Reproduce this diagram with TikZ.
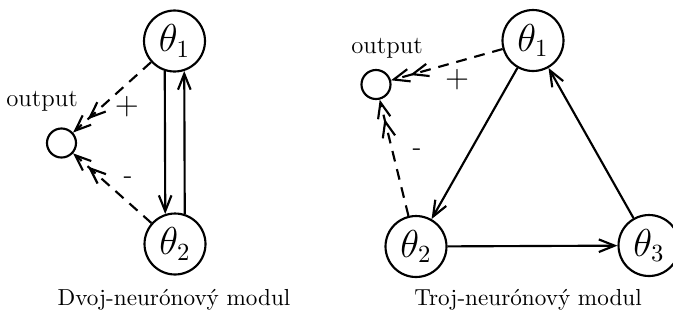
\documentclass[tikz,border=0pt]{standalone}
\usetikzlibrary{arrows.meta}
\begin{document}
\begin{tikzpicture}[x=0.4444pt, y=-0.4444pt,
  neuron/.style={draw, line width=0.95pt, circle, inner sep=0pt, minimum size=27.1pt, font=\fontsize{16}{18}\selectfont},
  outnode/.style={draw, line width=0.95pt, circle, inner sep=0pt, minimum size=12.9pt},
  lbl/.style={inner sep=0pt, font=\fontsize{11}{13}\selectfont},
  captiontext/.style={inner sep=0pt, font=\fontsize{10.3}{12}\selectfont},
  sign/.style={inner sep=0pt, font=\fontsize{14}{16}\selectfont},
  msign/.style={inner sep=0pt, font=\large},
  >={Straight Barb[length=7pt,width=5.6pt]},
  arr/.style={line width=0.95pt, ->},
  darr/.style={line width=0.95pt, ->>, dash pattern=on 4.8pt off 3.5pt}]
\useasboundingbox (0,0) rectangle (673,320);
% left module
\node[neuron] (A1) at (174.5,41) {$\theta_1$};
\node[neuron] (A2) at (175,244) {$\theta_2$};
\node[outnode] (Ao) at (61.5,143) {};
\node[lbl] (Al) at (42,101) {output};
\node[sign] (Ap) at (127,107) {+};
\node[msign] (Am) at (128,180) {-};
\draw[arr] (A1.-108) -- (A2.108);
\draw[arr] (A2.72) -- (A1.-72);
\draw[darr] (A1) -- (Ao);
\draw[darr] (A2) -- (Ao);
\node[captiontext] (Ac) at (174,300) {Dvoj-neurónový modul};
% right module
\node[neuron] (B1) at (533,40.5) {$\theta_1$};
\node[neuron] (B2) at (416,246.5) {$\theta_2$};
\node[neuron] (B3) at (649,245.5) {$\theta_3$};
\node[outnode] (Bo) at (376,84.5) {};
\node[lbl] (Bl) at (387,48) {output};
\node[sign] (Bp) at (457,80) {+};
\node[msign] (Bm) at (417,152) {-};
\draw[arr] (B1) -- (B2);
\draw[arr] (B2) -- (B3);
\draw[arr] (B3) -- (B1);
\draw[darr] (B1) -- (Bo);
\draw[darr] (B2) -- (Bo);
\node[captiontext] (Bc) at (528,300) {Troj-neurónový modul};
\end{tikzpicture}
\end{document}
